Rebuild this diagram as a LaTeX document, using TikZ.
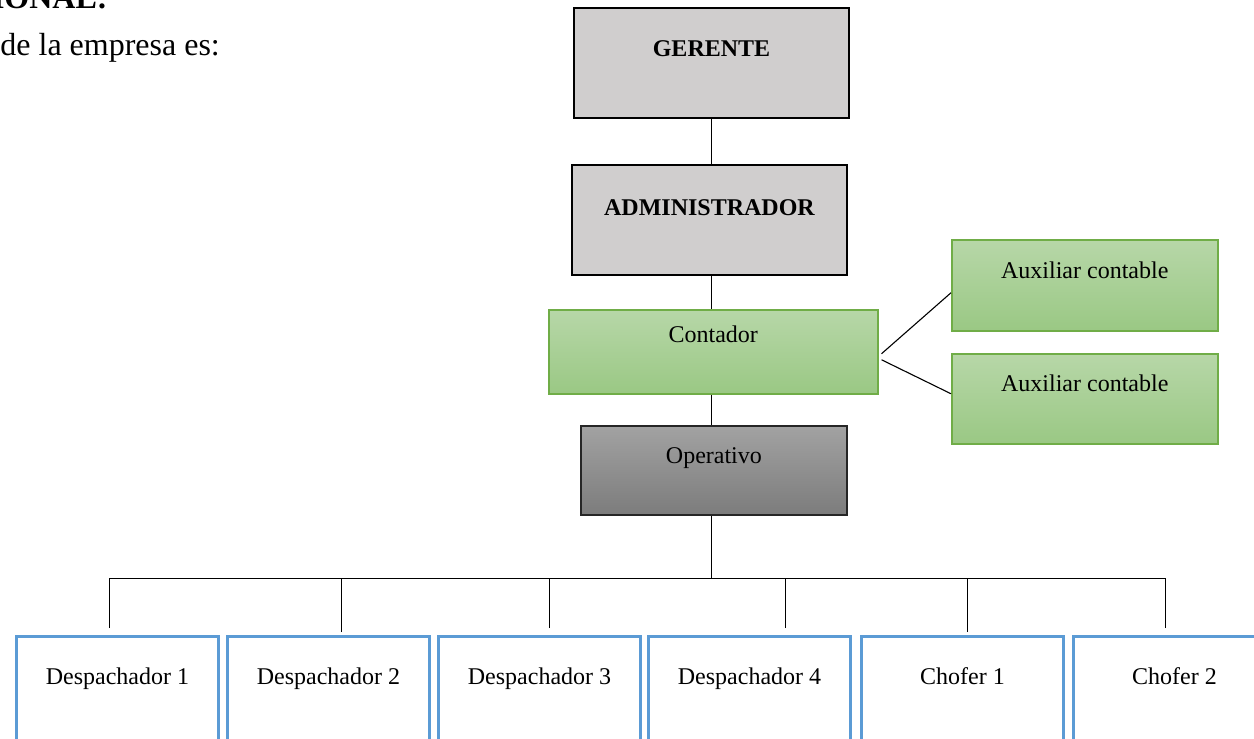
\documentclass[tikz,border=0pt]{standalone}
\usepackage{fontspec}
\setmainfont{Liberation Serif}
\usetikzlibrary{calc}
\definecolor{grayfill}{RGB}{208,206,206}
\definecolor{optop}{RGB}{162,162,162}
\definecolor{opbot}{RGB}{124,124,124}
\definecolor{grtop}{RGB}{183,215,168}
\definecolor{grbot}{RGB}{154,200,132}
\definecolor{grline}{RGB}{112,173,71}
\definecolor{blueline}{RGB}{91,155,213}
\begin{document}
\begin{tikzpicture}[x=0.5pt,y=-0.5pt,
  every node/.style={inner sep=0pt, font=\fontsize{12pt}{14pt}\selectfont},
  graybox/.style={draw=black, line width=1pt, fill=grayfill, anchor=north west, font=\fontsize{12pt}{14pt}\selectfont\bfseries},
  greenbox/.style={draw=grline, line width=0.75pt, top color=grtop, bottom color=grbot, anchor=north west},
  opbox/.style={draw=black!85, line width=0.9pt, top color=optop, bottom color=opbot, anchor=north west},
  bluebox/.style={draw=blueline, line width=1.5pt, fill=white, anchor=north west, minimum width=101pt, text height=24pt, text depth=58.5pt},
  conn/.style={draw=black, line width=0.55pt}
]
\clip (0,0) rectangle (1254,739);
\useasboundingbox (0,0) rectangle (1254,739);

% text at top left
\node[anchor=base east, font=\fontsize{16pt}{19pt}\selectfont\bfseries] (head) at (108,9) {ORGANIZACIONAL:};
\node[anchor=base west, font=\fontsize{16pt}{19pt}\selectfont] (intro) at (0,55) {de la empresa es:};

% boxes
\node[graybox, minimum width=137.5pt, text height=24pt, text depth=31pt] (ger) at (573,7) {GERENTE};
\node[graybox, minimum width=137.5pt, text height=25pt, text depth=30pt] (adm) at (571,164) {ADMINISTRADOR};
\node[greenbox, minimum width=164.5pt, text height=16.5pt, text depth=25.5pt] (cont) at (548,309) {Contador};
\node[greenbox, minimum width=133pt, text height=19.5pt, text depth=26pt] (aux1) at (951,239) {Auxiliar contable};
\node[greenbox, minimum width=133pt, text height=19pt, text depth=26pt] (aux2) at (951,353) {Auxiliar contable};
\node[opbox, minimum width=133pt, text height=19pt, text depth=25.5pt] (op) at (580,425) {Operativo};

\node[bluebox] (d1) at (15,635) {Despachador 1};
\node[bluebox] (d2) at (226,635) {Despachador 2};
\node[bluebox] (d3) at (437,635) {Despachador 3};
\node[bluebox] (d4) at (647,635) {Despachador 4};
\node[bluebox] (c1) at (860,635) {Chofer 1};
\node[bluebox] (c2) at (1072,635) {Chofer 2};

% connectors
\draw[conn] (ger.south) -- (ger.south |- adm.north);
\draw[conn] (ger.south |- adm.south) -- (ger.south |- cont.north);
\draw[conn] (ger.south |- cont.south) -- (ger.south |- op.north);
\coordinate (j) at ($(ger.south |- op.south)+(0,63)$);
\draw[conn] (ger.south |- op.south) -- (j);
\draw[conn] ($(cont.east)+(3,2)$) -- ($(aux1.west)+(0,7.5)$);
\draw[conn] ($(cont.east)+(3,8)$) -- ($(aux2.west)+(0,-5)$);

\draw[conn] ($(d1.north)+(-8,-7)$) |- (j);
\draw[conn] ($(d2.north)+(13,-3)$) |- (j);
\draw[conn] ($(d3.north)+(10,-7)$) |- (j);
\draw[conn] ($(d4.north)+(36,-7)$) |- (j);
\draw[conn] ($(c1.north)+(5,-3)$) |- (j);
\draw[conn] ($(c2.north)+(-9,-7)$) |- (j);
\end{tikzpicture}
\end{document}
